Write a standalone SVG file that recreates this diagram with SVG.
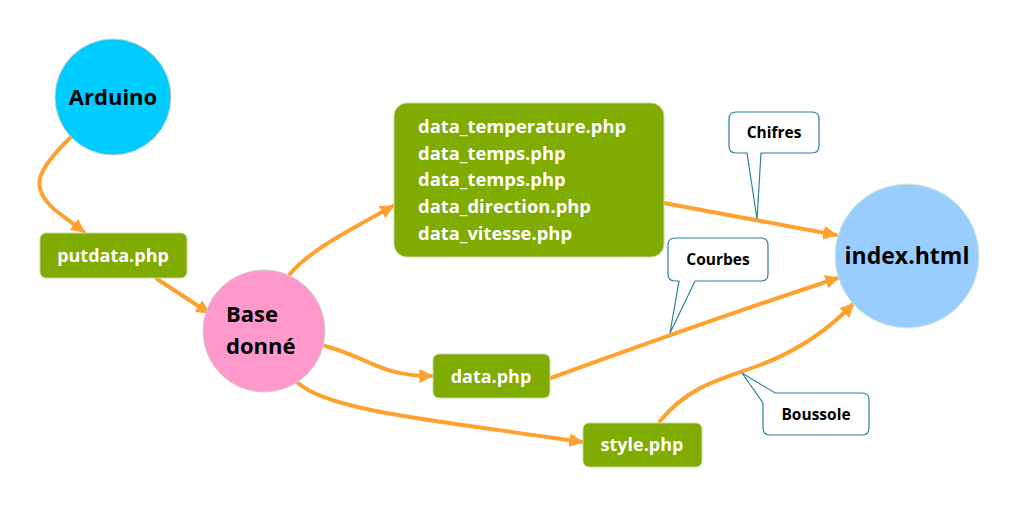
<svg xmlns="http://www.w3.org/2000/svg" width="1018" height="505" viewBox="0 0 1018 505">
<defs>
<style>
.conn{fill:none;stroke:#FFA12E;stroke-width:4;stroke-linecap:round}
.box{fill:#80AB00;stroke:#C8D8A0;stroke-width:1}
.wt{font-family:"Open Sans","Noto Sans","DejaVu Sans",sans-serif;font-weight:bold;fill:#FFFFFF}
.bt{font-family:"Open Sans","Noto Sans","DejaVu Sans",sans-serif;font-weight:bold;fill:#000000}
.call{fill:#FFFFFF;stroke:#2F7F9C;stroke-width:1.2}
</style>
<marker id="ah" viewBox="0 0 10 10" refX="9" refY="5" markerWidth="14" markerHeight="14" markerUnits="userSpaceOnUse" orient="auto">
<path d="M0,0 L10,5 L0,10 z" fill="#FFA12E"/>
</marker>
</defs>
<rect width="1018" height="505" fill="#FFFFFF"/>
<g id="connectors">
<path class="conn" marker-end="url(#ah)" d="M70,138 C35,172 30,188 55,210 L84,232"/>
<path class="conn" marker-end="url(#ah)" d="M157,279 L209,313"/>
<path class="conn" marker-end="url(#ah)" d="M290,274 C310,250 350,230 393,206"/>
<path class="conn" marker-end="url(#ah)" d="M325,346 C370,358 380,376 432,376"/>
<path class="conn" marker-end="url(#ah)" d="M298,383 C330,412 450,422 582,442"/>
<path class="conn" marker-end="url(#ah)" d="M664,203 L836,235"/>
<path class="conn" marker-end="url(#ah)" d="M551,378 C650,342 740,310 838,278"/>
<path class="conn" marker-end="url(#ah)" d="M660,421 C690,385 720,380 760,365 C800,350 830,328 853,304"/>
</g>
<g id="arduino">
<circle cx="113" cy="97" r="58" fill="#00CCFF" stroke="#CCCCCC" stroke-width="1"/>
<text class="bt" x="113" y="105" font-size="22" text-anchor="middle">Arduino</text>
</g>
<g id="putdata">
<rect class="box" x="40" y="233" width="147" height="45" rx="6"/>
<text class="wt" x="113" y="262" font-size="18" text-anchor="middle">putdata.php</text>
</g>
<g id="base">
<circle cx="264" cy="331" r="61" fill="#FF99CC" stroke="#CCCCCC" stroke-width="1"/>
<text class="bt" x="226" y="322" font-size="22">Base</text>
<text class="bt" x="226" y="354" font-size="22">donné</text>
</g>
<g id="datafiles">
<rect class="box" x="394" y="103" width="270" height="154" rx="13"/>
<text class="wt" x="418" y="133" font-size="18.4">data_temperature.php</text>
<text class="wt" x="418" y="160" font-size="18.4">data_temps.php</text>
<text class="wt" x="418" y="186" font-size="18.4">data_temps.php</text>
<text class="wt" x="418" y="213" font-size="18.4">data_direction.php</text>
<text class="wt" x="418" y="240" font-size="18.4">data_vitesse.php</text>
</g>
<g id="dataphp">
<rect class="box" x="433" y="354" width="117" height="44" rx="6"/>
<text class="wt" x="491" y="383" font-size="18" text-anchor="middle">data.php</text>
</g>
<g id="stylephp">
<rect class="box" x="583" y="423" width="119" height="44" rx="6"/>
<text class="wt" x="642" y="451" font-size="18" text-anchor="middle">style.php</text>
</g>
<g id="index">
<circle cx="907" cy="256" r="72" fill="#99CCFF" stroke="#D8F0D0" stroke-width="1"/>
<text class="bt" x="907" y="264" font-size="23" text-anchor="middle">index.html</text>
</g>
<g id="chifres">
<path class="call" d="M736,112 H812 Q819,112 819,119 V146 Q819,153 812,153 H761 L757,219 L747,153 H736 Q729,153 729,146 V119 Q729,112 736,112 Z"/>
<text class="bt" x="774" y="138" font-size="15.5" text-anchor="middle">Chifres</text>
</g>
<g id="courbes">
<path class="call" d="M675,238 H761 Q768,238 768,245 V274 Q768,281 761,281 H695 L670,333 L679,281 H675 Q668,281 668,274 V245 Q668,238 675,238 Z"/>
<text class="bt" x="718" y="265" font-size="15.5" text-anchor="middle">Courbes</text>
</g>
<g id="boussole">
<path class="call" d="M775,393 H862 Q869,393 869,400 V428 Q869,435 862,435 H770 Q763,435 763,428 V403 L742,373 L775,393 Z"/>
<text class="bt" x="816" y="420" font-size="15.5" text-anchor="middle">Boussole</text>
</g>
</svg>
